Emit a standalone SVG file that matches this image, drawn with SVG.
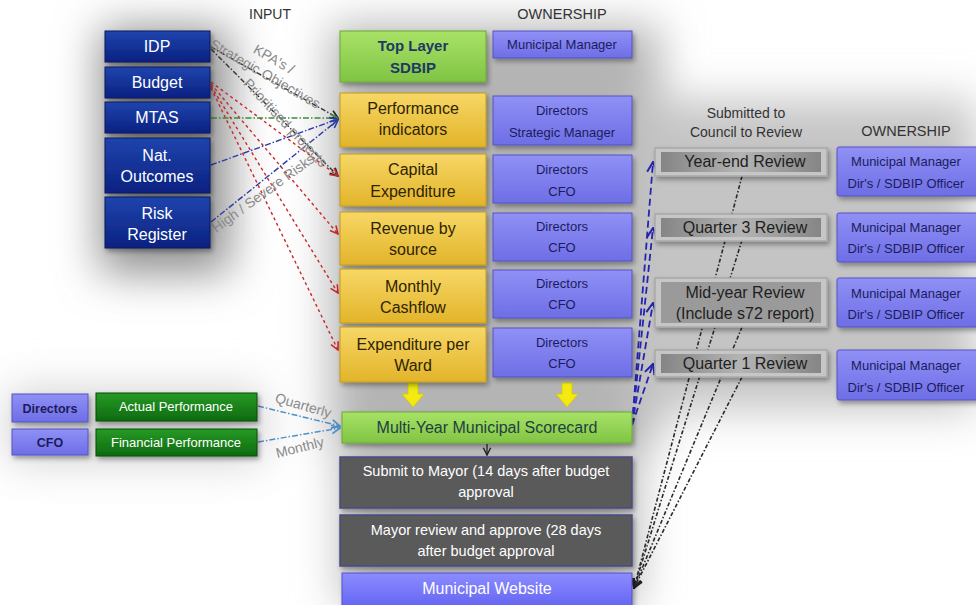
<svg xmlns="http://www.w3.org/2000/svg" width="976" height="605" viewBox="0 0 976 605">
<defs>
<style>
text{font-family:"Liberation Sans",Arial,sans-serif;}
.hdr{font-size:14px;fill:#333;text-anchor:middle;}
.inT{font-size:16px;fill:#fff;text-anchor:middle;}
.yT{font-size:16px;fill:#2e2400;text-anchor:middle;}
.pT{font-size:13px;fill:#1c1c5c;text-anchor:middle;}
.gT{font-size:15px;font-weight:bold;fill:#1f3864;text-anchor:middle;}
.dT{font-size:14.5px;fill:#fff;text-anchor:middle;}
.rT{font-size:16px;fill:#1e1e1e;text-anchor:middle;}
.lbl{font-size:14px;fill:#8a8a8a;text-anchor:middle;}
.wT{font-size:13px;fill:#fff;text-anchor:middle;}
.in{fill:url(#gBlue);stroke:#081a5c;stroke-width:1;filter:url(#sh);}
.y{fill:url(#gYel);stroke:#c49a18;stroke-width:1;filter:url(#sh);}
.p{fill:url(#gPur);stroke:#5454c4;stroke-width:1;filter:url(#sh);}
.g{fill:url(#gGrn);stroke:#6aa834;stroke-width:1;filter:url(#sh);}
.dg{fill:#5a5a5a;stroke:#4a4a86;stroke-width:1.5;filter:url(#sh);}
.dkg{fill:url(#gDkG);stroke:#0b4d0b;stroke-width:1;filter:url(#sh);}
.rvO{fill:#c6c6c6;stroke:#a9a9a9;stroke-width:1.5;}
.rvI{fill:url(#gRev);}
.cBlk{fill:none;stroke:#333;stroke-width:1.4;stroke-dasharray:5 2 1.5 2;}
.cRed{fill:none;stroke:#c8282c;stroke-width:1.4;stroke-dasharray:3 3;}
.cGrn{fill:none;stroke:#3f8a3f;stroke-width:1.4;stroke-dasharray:6 2 1.5 2;}
.cBlu{fill:none;stroke:#2c3aa6;stroke-width:1.4;stroke-dasharray:6 2 1.5 2;}
.cLb{fill:none;stroke:#4f8fc6;stroke-width:1.5;stroke-dasharray:6 2 1.5 2;}
.cNav{fill:none;stroke:#2424b0;stroke-width:1.8;stroke-dasharray:7 4;}
.cRv{fill:none;stroke:#2a2a2a;stroke-width:1.6;stroke-dasharray:4 2 1.5 2;}
</style>
<linearGradient id="gBlue" x1="0" y1="0" x2="0" y2="1"><stop offset="0" stop-color="#1f44ae"/><stop offset="1" stop-color="#0a2180"/></linearGradient>
<linearGradient id="gYel" x1="0" y1="0" x2="0" y2="1"><stop offset="0" stop-color="#f7d766"/><stop offset="1" stop-color="#e2b42a"/></linearGradient>
<linearGradient id="gPur" x1="0" y1="0" x2="0" y2="1"><stop offset="0" stop-color="#9090f6"/><stop offset="1" stop-color="#6e6ee6"/></linearGradient>
<linearGradient id="gWeb" x1="0" y1="0" x2="0" y2="1"><stop offset="0" stop-color="#8c8cff"/><stop offset="1" stop-color="#5e5ef0"/></linearGradient>
<linearGradient id="gGrn" x1="0" y1="0" x2="0" y2="1"><stop offset="0" stop-color="#a8e266"/><stop offset="1" stop-color="#80c444"/></linearGradient>
<linearGradient id="gDkG" x1="0" y1="0" x2="0" y2="1"><stop offset="0" stop-color="#269a26"/><stop offset="1" stop-color="#0e6a0e"/></linearGradient>
<linearGradient id="gRev" x1="0" y1="0" x2="1" y2="0"><stop offset="0" stop-color="#858585"/><stop offset="0.5" stop-color="#b4b4b4"/><stop offset="1" stop-color="#858585"/></linearGradient>
<filter id="sh" x="-20%" y="-30%" width="150%" height="170%"><feDropShadow dx="2" dy="3" stdDeviation="2.5" flood-color="#000" flood-opacity="0.35"/></filter>
<filter id="bg" x="-50%" y="-50%" width="200%" height="200%"><feGaussianBlur stdDeviation="22"/></filter>
<marker id="aBlk" viewBox="0 0 10 10" refX="9" refY="5" markerWidth="7" markerHeight="7" orient="auto"><path d="M1,1 L9,5 L1,9" fill="none" stroke="#222" stroke-width="1.6"/></marker>
<marker id="aRed" viewBox="0 0 10 10" refX="9" refY="5" markerWidth="7" markerHeight="7" orient="auto"><path d="M1,1 L9,5 L1,9" fill="none" stroke="#c8282c" stroke-width="1.6"/></marker>
<marker id="aGrn" viewBox="0 0 10 10" refX="9" refY="5" markerWidth="7" markerHeight="7" orient="auto"><path d="M1,1 L9,5 L1,9" fill="none" stroke="#3f8a3f" stroke-width="1.6"/></marker>
<marker id="aBlu" viewBox="0 0 10 10" refX="9" refY="5" markerWidth="7" markerHeight="7" orient="auto"><path d="M1,1 L9,5 L1,9" fill="none" stroke="#2c3aa6" stroke-width="1.6"/></marker>
<marker id="aLb" viewBox="0 0 10 10" refX="9" refY="5" markerWidth="7" markerHeight="7" orient="auto"><path d="M1,1 L9,5 L1,9" fill="none" stroke="#4f8fc6" stroke-width="1.6"/></marker>
<marker id="aNav" viewBox="0 0 10 10" refX="9" refY="5" markerWidth="7" markerHeight="7" orient="auto"><path d="M1,1 L9,5 L1,9" fill="none" stroke="#2424b0" stroke-width="1.6"/></marker>
</defs>

<!-- background -->
<rect width="976" height="605" fill="#ffffff"/>
<g filter="url(#bg)">
<rect x="330" y="25" width="330" height="420" fill="#b4b4b4"/>
<rect x="630" y="100" width="346" height="310" fill="#c4c4c4"/>
<rect x="100" y="28" width="130" height="245" fill="#8e8e8e"/>
<rect x="8" y="390" width="255" height="72" fill="#d2d2d2"/>
<rect x="340" y="440" width="300" height="165" fill="#bdbdbd"/>
</g>

<!-- headers -->
<g id="headers">
<text class="hdr" x="270" y="19">INPUT</text>
<text class="hdr" x="562" y="19" style="font-size:14.5px">OWNERSHIP</text>
<text class="hdr" x="746" y="118">Submitted to</text>
<text class="hdr" x="746" y="137">Council to Review</text>
<text class="hdr" x="906" y="136" style="font-size:14.5px">OWNERSHIP</text>
</g>

<!-- connectors -->
<g id="connectors">
<line class="cBlk" x1="211" y1="47" x2="338" y2="118" marker-end="url(#aBlk)"/>
<line class="cBlk" x1="211" y1="49" x2="338" y2="176" marker-end="url(#aBlk)"/>
<line class="cRed" x1="211" y1="82" x2="338" y2="176" marker-end="url(#aRed)"/>
<line class="cRed" x1="211" y1="84" x2="338" y2="234" marker-end="url(#aRed)"/>
<line class="cRed" x1="211" y1="86" x2="338" y2="293" marker-end="url(#aRed)"/>
<line class="cRed" x1="211" y1="88" x2="338" y2="350" marker-end="url(#aRed)"/>
<line class="cGrn" x1="211" y1="118" x2="338" y2="118" marker-end="url(#aGrn)"/>
<line class="cBlu" x1="211" y1="165" x2="338" y2="119" marker-end="url(#aBlu)"/>
<line class="cBlu" x1="211" y1="222" x2="338" y2="120" marker-end="url(#aBlu)"/>
<line class="cLb" x1="258" y1="406" x2="340" y2="426" marker-end="url(#aLb)"/>
<line class="cLb" x1="258" y1="442" x2="340" y2="428" marker-end="url(#aLb)"/>
<line stroke="#222" stroke-width="1.3" x1="487" y1="444" x2="487" y2="455" marker-end="url(#aBlk)"/>
<line class="cNav" x1="632" y1="425" x2="653" y2="162" marker-end="url(#aNav)"/>
<line class="cNav" x1="632" y1="425" x2="653" y2="228" marker-end="url(#aNav)"/>
<line class="cNav" x1="632" y1="425" x2="653" y2="303" marker-end="url(#aNav)"/>
<line class="cNav" x1="632" y1="425" x2="653" y2="364" marker-end="url(#aNav)"/>
<line class="cRv" x1="742" y1="176" x2="634" y2="588" marker-end="url(#aBlk)"/>
<line class="cRv" x1="742" y1="240" x2="634" y2="588" marker-end="url(#aBlk)"/>
<line class="cRv" x1="742" y1="327" x2="634" y2="588" marker-end="url(#aBlk)"/>
<line class="cRv" x1="742" y1="377" x2="634" y2="588" marker-end="url(#aBlk)"/>
<polygon points="408,383 418,383 418,394 424,394 413,407 402,394 408,394" fill="#f2ea10" stroke="#d8c800" stroke-width="0.8"/>
<polygon points="562,383 572,383 572,394 578,394 567,407 556,394 562,394" fill="#f2ea10" stroke="#d8c800" stroke-width="0.8"/>
<g transform="translate(263,78) rotate(30)">
<text class="lbl" x="0" y="-17">KPA's /</text>
<text class="lbl" x="0" y="0">Strategic Objectives</text>
</g>
<text class="lbl" transform="translate(282,126) rotate(47)">Prioritised projects</text>
<text class="lbl" transform="translate(266,197) rotate(-36)">High / Severe Risks</text>
<text class="lbl" transform="translate(302,410) rotate(16)">Quarterly</text>
<text class="lbl" transform="translate(301,452) rotate(-14)">Monthly</text>
</g>

<!-- input nodes -->
<g id="n-idp"><rect class="in" x="105" y="31" width="105" height="31"/><text class="inT" x="157" y="52">IDP</text></g>
<g id="n-budget"><rect class="in" x="105" y="67" width="105" height="31"/><text class="inT" x="157" y="88">Budget</text></g>
<g id="n-mtas"><rect class="in" x="105" y="102" width="105" height="31"/><text class="inT" x="157" y="123">MTAS</text></g>
<g id="n-nat"><rect class="in" x="105" y="138" width="105" height="55"/><text class="inT" x="157" y="161">Nat.</text><text class="inT" x="157" y="182">Outcomes</text></g>
<g id="n-risk"><rect class="in" x="105" y="197" width="105" height="51"/><text class="inT" x="157" y="219">Risk</text><text class="inT" x="157" y="240">Register</text></g>

<!-- center column -->
<g id="n-top"><rect class="g" x="340" y="31" width="146" height="51"/><text class="gT" x="413" y="51">Top Layer</text><text class="gT" x="413" y="73">SDBIP</text></g>
<g id="o-top"><rect class="p" x="493" y="31" width="139" height="27"/><text class="pT" x="562" y="49">Municipal Manager</text></g>
<g id="n-pi"><rect class="y" x="340" y="93" width="146" height="54"/><text class="yT" x="413" y="114">Performance</text><text class="yT" x="413" y="135">indicators</text></g>
<g id="o-pi"><rect class="p" x="493" y="96" width="139" height="49"/><text class="pT" x="562" y="115">Directors</text><text class="pT" x="562" y="137">Strategic Manager</text></g>
<g id="n-capex"><rect class="y" x="340" y="154" width="146" height="52"/><text class="yT" x="413" y="175">Capital</text><text class="yT" x="413" y="197">Expenditure</text></g>
<g id="o-capex"><rect class="p" x="493" y="155" width="139" height="48"/><text class="pT" x="562" y="174">Directors</text><text class="pT" x="562" y="196">CFO</text></g>
<g id="n-rev"><rect class="y" x="340" y="212" width="146" height="53"/><text class="yT" x="413" y="234">Revenue by</text><text class="yT" x="413" y="255">source</text></g>
<g id="o-rev"><rect class="p" x="493" y="213" width="139" height="48"/><text class="pT" x="562" y="231">Directors</text><text class="pT" x="562" y="252">CFO</text></g>
<g id="n-cash"><rect class="y" x="340" y="269" width="146" height="54"/><text class="yT" x="413" y="292">Monthly</text><text class="yT" x="413" y="313">Cashflow</text></g>
<g id="o-cash"><rect class="p" x="493" y="270" width="139" height="48"/><text class="pT" x="562" y="288">Directors</text><text class="pT" x="562" y="309">CFO</text></g>
<g id="n-ward"><rect class="y" x="340" y="327" width="146" height="55"/><text class="yT" x="413" y="350">Expenditure per</text><text class="yT" x="413" y="371">Ward</text></g>
<g id="o-ward"><rect class="p" x="493" y="328" width="139" height="49"/><text class="pT" x="562" y="347">Directors</text><text class="pT" x="562" y="368">CFO</text></g>

<g id="n-score"><rect class="g" x="342" y="412" width="290" height="31"/><text x="487" y="433" style="font-size:16px;fill:#1f4040;text-anchor:middle">Multi-Year Municipal Scorecard</text></g>
<g id="n-submit"><rect class="dg" x="340" y="457" width="292" height="51"/><text class="dT" x="486" y="476">Submit  to Mayor (14 days after budget</text><text class="dT" x="486" y="497">approval</text></g>
<g id="n-approve"><rect class="dg" x="340" y="515" width="292" height="51"/><text class="dT" x="486" y="535">Mayor  review and approve (28 days</text><text class="dT" x="486" y="556">after budget  approval</text></g>
<g id="n-web"><rect x="342" y="573" width="290" height="40" fill="url(#gWeb)" stroke="#5050c8" filter="url(#sh)"/><text x="487" y="594" style="font-size:16px;fill:#fff;text-anchor:middle">Municipal Website</text></g>

<!-- left bottom -->
<g id="o-actual"><rect class="p" x="12" y="394" width="76" height="28"/><text x="50" y="413" style="font-size:12.5px;font-weight:bold;fill:#1c1c5c;text-anchor:middle">Directors</text></g>
<g id="n-actual"><rect class="dkg" x="96" y="393" width="161" height="28"/><text class="wT" x="176" y="411">Actual Performance</text></g>
<g id="o-fin"><rect class="p" x="12" y="429" width="76" height="26"/><text x="50" y="447" style="font-size:12.5px;font-weight:bold;fill:#1c1c5c;text-anchor:middle">CFO</text></g>
<g id="n-fin"><rect class="dkg" x="96" y="429" width="161" height="27"/><text class="wT" x="176" y="447">Financial Performance</text></g>

<!-- review column -->
<g id="n-yearend"><rect class="rvO" x="655" y="148" width="172" height="28" filter="url(#sh)"/><rect class="rvI" x="661" y="152" width="160" height="20"/><text class="rT" x="745" y="167">Year-end Review</text></g>
<g id="o-yearend"><rect class="p" x="837" y="147" width="150" height="49" rx="2"/><text class="pT" x="906" y="166">Municipal Manager</text><text class="pT" x="906" y="188">Dir's / SDBIP Officer</text></g>
<g id="n-q3"><rect class="rvO" x="655" y="214" width="172" height="27" filter="url(#sh)"/><rect class="rvI" x="661" y="218" width="160" height="19"/><text class="rT" x="745" y="233">Quarter 3 Review</text></g>
<g id="o-q3"><rect class="p" x="837" y="213" width="150" height="49" rx="2"/><text class="pT" x="906" y="232">Municipal Manager</text><text class="pT" x="906" y="253">Dir's / SDBIP Officer</text></g>
<g id="n-mid"><rect class="rvO" x="655" y="278" width="172" height="49" filter="url(#sh)"/><rect x="661" y="282" width="160" height="41" fill="#9a9a9a"/><text class="rT" x="745" y="298">Mid-year Review</text><text class="rT" x="745" y="319">(Include s72 report)</text></g>
<g id="o-mid"><rect class="p" x="837" y="278" width="150" height="49" rx="2"/><text class="pT" x="906" y="298">Municipal Manager</text><text class="pT" x="906" y="319">Dir's / SDBIP Officer</text></g>
<g id="n-q1"><rect class="rvO" x="655" y="350" width="172" height="27" filter="url(#sh)"/><rect class="rvI" x="661" y="354" width="160" height="19"/><text class="rT" x="745" y="369">Quarter 1 Review</text></g>
<g id="o-q1"><rect class="p" x="837" y="350" width="150" height="50" rx="2"/><text class="pT" x="906" y="370">Municipal Manager</text><text class="pT" x="906" y="392">Dir's / SDBIP Officer</text></g>
</svg>
